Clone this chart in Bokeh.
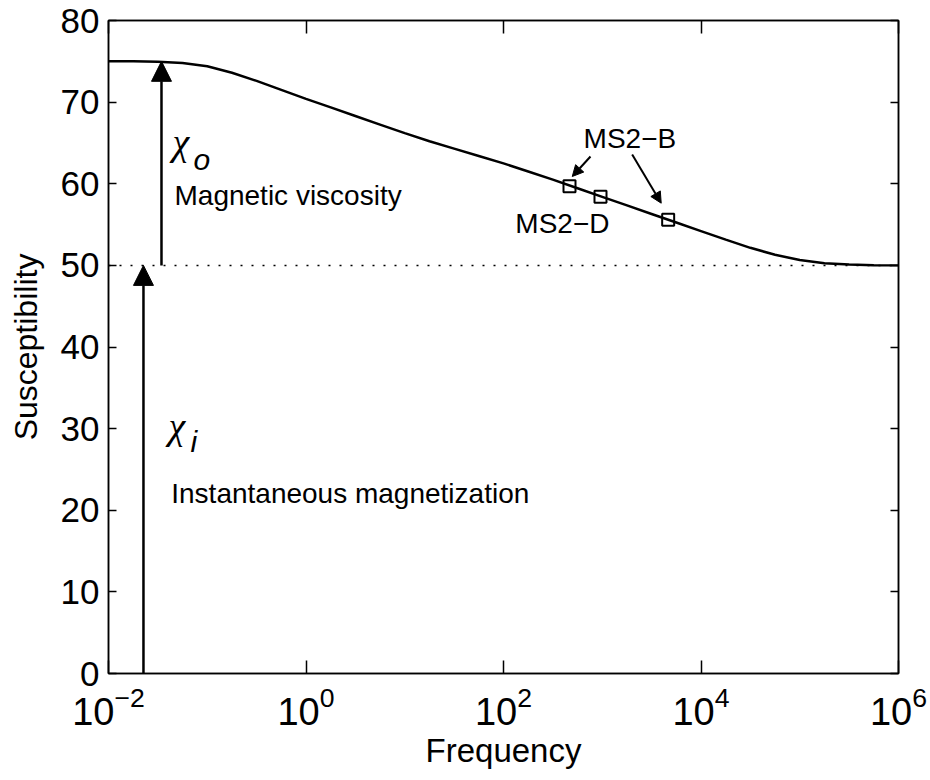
from bokeh.plotting import figure
from bokeh.models import (Label, Arrow, NormalHead, Span, FixedTicker, LinearAxis,
                          LogAxis, CustomJSTickFormatter, LogTickFormatter)
from bokeh.embed import file_html
from bokeh.resources import INLINE

FONT = "Liberation Sans"

# Frequency-dependent susceptibility curve
freq = [1e-2, 1.78e-2, 3.16e-2, 5.62e-2, 1e-1, 1.78e-1, 3.16e-1, 5.62e-1,
        1.0, 1.78, 3.16, 5.62, 10, 17.8, 31.6, 56.2,
        100, 178, 316, 562, 1e3, 1.78e3, 3.16e3, 5.62e3,
        1e4, 1.78e4, 3.16e4, 5.62e4, 1e5, 1.78e5, 3.16e5, 5.62e5, 1e6]
chi = [75.00, 75.00, 74.95, 74.80, 74.40, 73.60, 72.60, 71.50,
       70.40, 69.35, 68.30, 67.25, 66.20, 65.20, 64.30, 63.40,
       62.50, 61.50, 60.50, 59.45, 58.40, 57.35, 56.30, 55.25,
       54.20, 53.15, 52.15, 51.30, 50.65, 50.27, 50.10, 50.02, 50.00]

# Measured samples
sample_freq = [466, 960, 4650]
sample_chi = [59.7, 58.4, 55.6]

chi_inst = 50.0      # instantaneous (high-frequency) susceptibility
chi_low = 75.0       # low-frequency susceptibility

x_ticks = [1e-2, 1.0, 1e2, 1e4, 1e6]
y_ticks = [0, 10, 20, 30, 40, 50, 60, 70, 80]

p = figure(width=930, height=780, x_axis_type="log",
           x_range=(1e-2, 1e6), y_range=(0, 80),
           output_backend="svg", toolbar_location=None,
           min_border_left=108, min_border_right=32,
           min_border_top=20, min_border_bottom=107)
p.grid.visible = False
p.outline_line_color = "black"
p.outline_line_width = 1.5
p.outline_line_alpha = 1.0

blank = CustomJSTickFormatter(code="return ''")

def style_axis(ax, tick_len):
    ax.major_tick_in = tick_len
    ax.major_tick_out = 0
    ax.minor_tick_in = 0
    ax.minor_tick_out = 0
    ax.axis_line_color = "black"
    ax.axis_line_width = 1.5
    ax.major_tick_line_color = "black"
    ax.major_tick_line_width = 1.5

xb = p.xaxis[0]
xb.ticker = FixedTicker(ticks=x_ticks, minor_ticks=[])
xb.formatter = LogTickFormatter()
style_axis(xb, 13)
xb.major_label_text_font = FONT
xb.major_label_text_font_size = "38px"
xb.major_label_text_color = "black"
xb.major_label_standoff = 12
xb.axis_label = "Frequency"
xb.axis_label_text_font = FONT
xb.axis_label_text_font_size = "33px"
xb.axis_label_text_font_style = "normal"
xb.axis_label_text_color = "black"
xb.axis_label_standoff = 4

yl = p.yaxis[0]
yl.ticker = FixedTicker(ticks=y_ticks, minor_ticks=[])
style_axis(yl, 8)
yl.major_label_text_font = FONT
yl.major_label_text_font_size = "35px"
yl.major_label_text_color = "black"
yl.major_label_standoff = 9
yl.axis_label = "Susceptibility"
yl.axis_label_text_font = FONT
yl.axis_label_text_font_size = "32px"
yl.axis_label_text_font_style = "normal"
yl.axis_label_text_color = "black"
yl.axis_label_standoff = 14

top = LogAxis(ticker=FixedTicker(ticks=x_ticks, minor_ticks=[]), formatter=blank)
style_axis(top, 13)
p.add_layout(top, "above")
right = LinearAxis(ticker=FixedTicker(ticks=y_ticks, minor_ticks=[]), formatter=blank)
style_axis(right, 8)
p.add_layout(right, "right")

# reference level and curve
p.add_layout(Span(location=chi_inst, dimension="width", line_color="black",
                  line_width=1.5, line_dash="2 9"))
p.line(freq, chi, line_color="black", line_width=2.5)
p.scatter(sample_freq, sample_chi, marker="square", size=12,
          fill_color=None, line_color="black", line_width=2)

# arrows for the two susceptibility components
big_head = dict(size=20, fill_color="black", line_color="black", line_width=1)
p.add_layout(Arrow(x_start=0.0344, y_start=chi_inst, x_end=0.0344, y_end=chi_low,
                   line_color="black", line_width=2.5, end=NormalHead(**big_head)))
p.add_layout(Arrow(x_start=0.0226, y_start=0, x_end=0.0226, y_end=chi_inst,
                   line_color="black", line_width=2.5, end=NormalHead(**big_head)))

small_head = dict(size=11, fill_color="black", line_color="black", line_width=1)
p.add_layout(Arrow(x_start=760, y_start=63.34, x_end=497, y_end=60.89,
                   line_color="black", line_width=2, end=NormalHead(**small_head)))
p.add_layout(Arrow(x_start=2009, y_start=63.58, x_end=3955, y_end=57.62,
                   line_color="black", line_width=2, end=NormalHead(**small_head)))

def note(x, y, text, size=28, font=FONT, style="normal", align="left"):
    p.add_layout(Label(x=x, y=y, text=text, text_align=align,
                       text_baseline="alphabetic", text_font=font,
                       text_font_size=f"{size}px", text_font_style=style,
                       text_color="black"))

note(0.0445, 65.1, "\u03c7", size=38, font="Liberation Serif", style="italic")
note(0.0726, 63.0, "o", size=30, style="italic")
note(0.0466, 58.5, "Magnetic viscosity")
note(0.0405, 30.3, "\u03c7", size=38, font="Liberation Serif", style="italic")
note(0.0676, 28.4, "i", size=30, style="italic")
note(0.0432, 22.0, "Instantaneous magnetization")
note(1905, 65.5, "MS2\u2212B", align="center")
note(395, 55.1, "MS2\u2212D", align="center")

open("out.html", "w").write(file_html(p, INLINE))
